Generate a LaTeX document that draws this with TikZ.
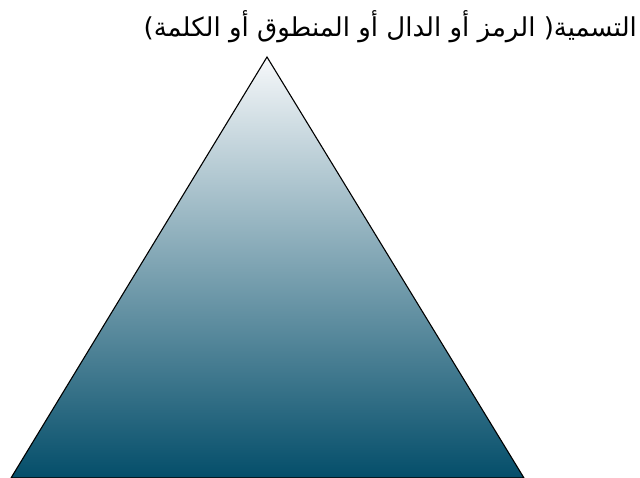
\documentclass[tikz,border=0pt]{standalone}
\usepackage{fontspec}
\newfontfamily\arabicfont[Script=Arabic]{DejaVu Sans}
\TeXXeTstate=1
\definecolor{topc}{RGB}{246,248,250}
\definecolor{botc}{RGB}{4,78,106}
\tikzset{
  pyramid/.style={draw=black, line width=1.1pt, line join=miter, top color=topc, bottom color=botc},
  titletext/.style={inner sep=0pt, font=\arabicfont\fontsize{26}{30}\selectfont}
}
\begin{document}
\begin{tikzpicture}[x=1pt,y=-1pt]
\useasboundingbox (0,0) rectangle (640,477);
\coordinate (apex) at (267,57);
\coordinate (bl) at (11,478);
\coordinate (br) at (524,478);
\shade[pyramid] (apex) -- (br) -- (bl) -- cycle;
\node[titletext, anchor=base east] (title) at (637,36) {\beginR التسمية( الرمز أو الدال أو المنطوق أو الكلمة)\endR};
\end{tikzpicture}
\end{document}
